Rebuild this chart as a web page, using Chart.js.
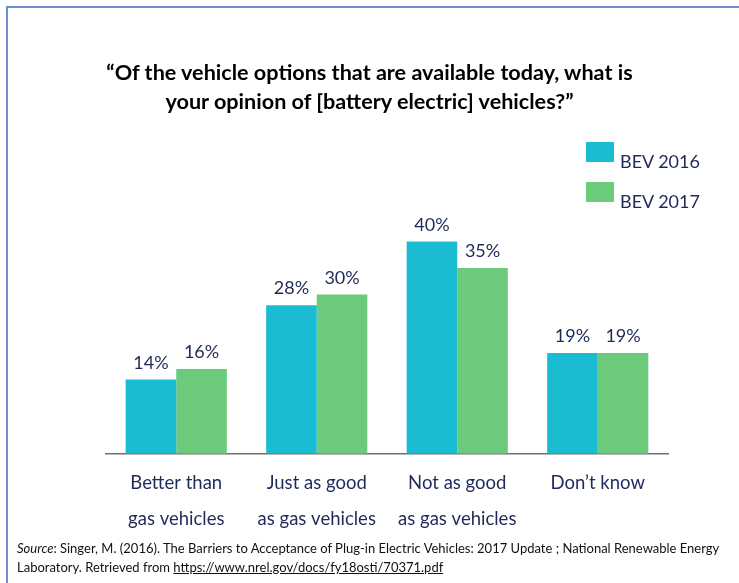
<!DOCTYPE html>
<html>
<head>
<meta charset="utf-8">
<script src="https://cdn.jsdelivr.net/npm/chart.js@4.4.0/dist/chart.umd.min.js"></script>
<style>
  html, body { margin: 0; padding: 0; background: #fff; }
  body { width: 739px; height: 583px; position: relative; overflow: hidden; font-family: Lato, "Open Sans", sans-serif; }
  #frame { position: absolute; left: 6px; top: 6px; width: 760px; height: 600px; border-left: 2px solid #6b8fd0; border-top: 2px solid #6b8fd0; }
  #wrap { position: absolute; left: 0; top: 0; width: 739px; height: 583px; }
  #title { position: absolute; left: 0; width: 739px; top: 58px; text-align: center; font-weight: bold; font-size: 21.6px; line-height: 29px; color: #000; }
  #legend { position: absolute; left: 586px; top: 142px; font-size: 18px; color: #1f2a5a; }
  .li { position: relative; height: 40px; }
  .sw { position: absolute; left: 0; top: 0; width: 28px; height: 20px; }
  .lt { position: absolute; left: 34px; top: 8px; white-space: nowrap; }
  #source { position: absolute; left: 17px; top: 539px; font-size: 13px; line-height: 19px; color: #111; }
  #source a { color: #111; text-decoration: underline; }
</style>
</head>
<body>
<div id="frame"></div>
<div id="wrap"><canvas id="c" width="739" height="583"></canvas></div>
<div id="title">“Of the vehicle options that are available today, what is<br>your opinion of [battery electric] vehicles?”</div>
<div id="legend"></div>
<div id="source"><i>Source</i>: Singer, M. (2016). The Barriers to Acceptance of Plug-in Electric Vehicles: 2017 Update ; National Renewable Energy<br>Laboratory. Retrieved from <a>https://www.nrel.gov/docs/fy18osti/70371.pdf</a></div>
<script>
const categories = [
  ["Better than", "gas vehicles"],
  ["Just as good", "as gas vehicles"],
  ["Not as good", "as gas vehicles"],
  ["Don\u2019t know", ""]
];
const seriesNames = ["BEV 2016", "BEV 2017"];
const bev2016 = [14, 28, 40, 19];
const bev2017 = [16, 30, 35, 19];
const seriesColors = ["#19bcd0", "#6bcb7b"];
const labelColor = "#1f2a5a";

const legendEl = document.getElementById("legend");
seriesNames.forEach((n, i) => {
  const d = document.createElement("div");
  d.className = "li";
  d.innerHTML = '<div class="sw" style="background:' + seriesColors[i] + '"></div><div class="lt">' + n + '</div>';
  legendEl.appendChild(d);
});

const valueLabels = {
  id: "valueLabels",
  afterDatasetsDraw(chart) {
    const ctx = chart.ctx;
    ctx.save();
    ctx.font = "18px Lato, 'Open Sans', sans-serif";
    ctx.fillStyle = labelColor;
    ctx.textAlign = "center";
    ctx.textBaseline = "alphabetic";
    chart.data.datasets.forEach((ds, di) => {
      chart.getDatasetMeta(di).data.forEach((bar, i) => {
        ctx.fillText(ds.data[i] + "%", bar.x, bar.y - 11);
      });
    });
    ctx.restore();
  }
};

const yMax = 45;
new Chart(document.getElementById("c"), {
  type: "bar",
  data: {
    labels: categories,
    datasets: [
      { label: seriesNames[0], data: bev2016, backgroundColor: seriesColors[0], borderWidth: 0, categoryPercentage: 0.72, barPercentage: 1.0 },
      { label: seriesNames[1], data: bev2017, backgroundColor: seriesColors[1], borderWidth: 0, categoryPercentage: 0.72, barPercentage: 1.0 }
    ]
  },
  options: {
    responsive: false,
    animation: false,
    devicePixelRatio: 1,
    layout: { padding: { left: 106, right: 71, top: 215, bottom: 35 } },
    plugins: { legend: { display: false }, tooltip: { enabled: false } },
    scales: {
      x: {
        grid: { display: false, drawTicks: false },
        border: { display: true, color: "#707070", width: 1.5 },
        ticks: {
          color: labelColor,
          font: { family: "Lato, 'Open Sans', sans-serif", size: 18.5, lineHeight: 1.95 },
          padding: 11,
          maxRotation: 0,
          autoSkip: false
        }
      },
      y: {
        display: false,
        min: 0,
        max: yMax
      }
    }
  },
  plugins: [valueLabels]
});
</script>
</body>
</html>
